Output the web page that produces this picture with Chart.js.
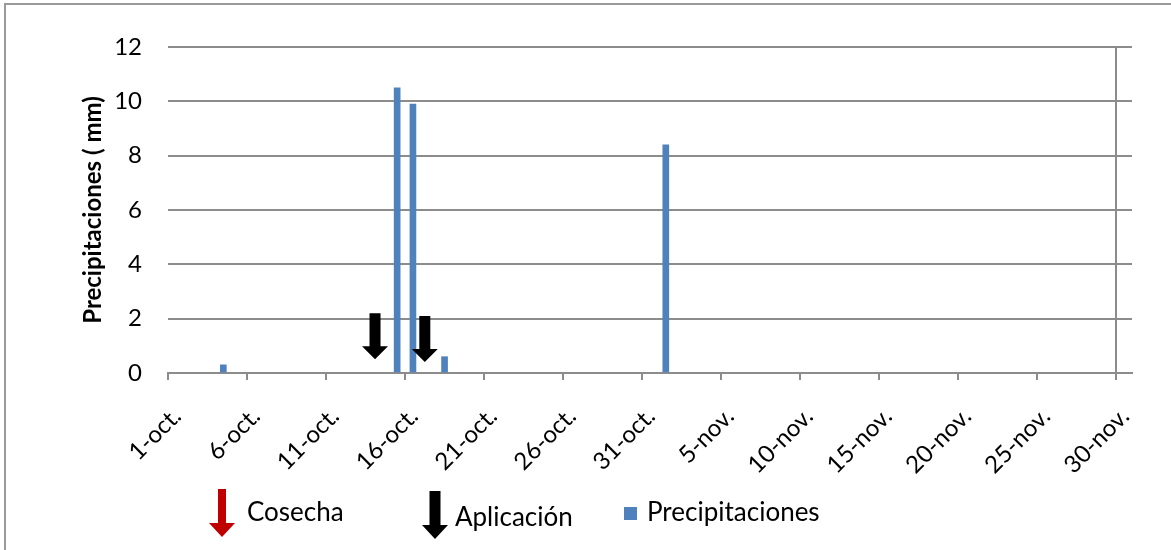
<!DOCTYPE html>
<html>
<head>
<meta charset="utf-8">
<script src="https://cdn.jsdelivr.net/npm/chart.js@4/dist/chart.umd.min.js"></script>
<style>
  html, body { margin: 0; padding: 0; background: #fff; }
  #wrap { width: 1171px; height: 550px; }
</style>
</head>
<body>
<div id="wrap"><canvas id="lluvia" width="1171" height="550"></canvas></div>
<script>
// dias desde el 1-oct.
const diasLluvia = [3, 14, 15, 17, 31];
const precipitaciones = [0.3, 10.5, 9.9, 0.6, 8.4];

// etiquetas del eje x, cada 5 dias
const tickDias = [0, 5, 10, 15, 20, 25, 30, 35, 40, 45, 50, 55, 60];
const tickEtiquetas = ['1-oct.', '6-oct.', '11-oct.', '16-oct.', '21-oct.', '26-oct.', '31-oct.',
  '5-nov.', '10-nov.', '15-nov.', '20-nov.', '25-nov.', '30-nov.'];

// flechas de aplicacion (posicion en dias, altura de la punta superior en mm)
const aplicacionDias = [13.1, 16.25];
const aplicacionTope = [2.2, 2.1];

const leyenda = ['Cosecha', 'Aplicación', 'Precipitaciones'];

const fuente = 'Lato';
const gris = '#8c8c8c';

function flecha(ctx, cx, top, bottom, shaft, head, headH, color) {
  ctx.fillStyle = color;
  ctx.beginPath();
  ctx.moveTo(cx - shaft / 2, top);
  ctx.lineTo(cx + shaft / 2, top);
  ctx.lineTo(cx + shaft / 2, bottom - headH);
  ctx.lineTo(cx + head / 2, bottom - headH);
  ctx.lineTo(cx, bottom);
  ctx.lineTo(cx - head / 2, bottom - headH);
  ctx.lineTo(cx - shaft / 2, bottom - headH);
  ctx.closePath();
  ctx.fill();
}

const extras = {
  id: 'extras',
  beforeDraw(chart) {
    const ctx = chart.ctx;
    ctx.save();
    ctx.strokeStyle = '#9a9a9a';
    ctx.lineWidth = 2;
    ctx.strokeRect(5, 4, 1300, 700);
    ctx.restore();
  },
  afterDraw(chart) {
    const ctx = chart.ctx;
    const xs = chart.scales.x, ys = chart.scales.y;
    ctx.save();
    aplicacionDias.forEach(function (d, i) {
      const cx = xs.getPixelForValue(d);
      const top = ys.getPixelForValue(aplicacionTope[i]);
      flecha(ctx, cx, top, top + 46, 11, 26, 13, '#000');
    });

    // leyenda
    flecha(ctx, 222, 489, 537, 8, 26, 14, '#c00000');
    flecha(ctx, 435, 491, 539, 11, 26, 14, '#000');
    ctx.fillStyle = '#4f81bd';
    ctx.fillRect(624, 507, 13, 13);
    ctx.fillStyle = '#000';
    ctx.font = '26px ' + fuente;
    ctx.textBaseline = 'alphabetic';
    ctx.textAlign = 'left';
    ctx.fillText(leyenda[0], 247, 521);
    ctx.fillText(leyenda[1], 455, 526);
    ctx.fillText(leyenda[2], 647, 521);
    ctx.restore();
  }
};

new Chart('lluvia', {
  type: 'bar',
  data: {
    datasets: [{
      label: 'Precipitaciones',
      data: diasLluvia.map(function (d, i) { return { x: d + 0.5, y: precipitaciones[i] }; }),
      backgroundColor: '#4f81bd',
      barThickness: 6
    }]
  },
  options: {
    responsive: false,
    animation: false,
    layout: { padding: { top: 47, right: 39, left: 75, bottom: 0 } },
    plugins: { legend: { display: false }, tooltip: { enabled: false } },
    scales: {
      x: {
        type: 'linear',
        min: 0,
        max: 61,
        offset: false,
        afterBuildTicks(scale) { scale.ticks = tickDias.map(function (v) { return { value: v }; }); },
        afterFit(scale) { scale.height = 177; },
        ticks: {
          autoSkip: false,
          maxRotation: 45,
          minRotation: 45,
          padding: 22,
          labelOffset: 9,
          color: '#000',
          font: { family: fuente, size: 24 },
          callback: function (v) { return tickEtiquetas[tickDias.indexOf(v)]; }
        },
        grid: {
          offset: false,
          color: function (c) { return c.tick && c.tick.value === 60 ? gris : 'transparent'; },
          tickColor: gris,
          lineWidth: 2,
          tickLength: 7
        },
        border: { color: gris, width: 2 }
      },
      y: {
        min: 0,
        max: 12,
        afterFit(scale) { scale.width = 93; },
        ticks: {
          stepSize: 2,
          padding: 26,
          color: '#000',
          font: { family: fuente, size: 24 }
        },
        grid: { color: gris, lineWidth: 2, drawTicks: false },
        border: { display: false },
        title: {
          display: true,
          text: 'Precipitaciones ( mm)',
          color: '#000',
          font: { family: fuente, size: 24, weight: 'bold' },
          padding: 4
        }
      }
    }
  },
  plugins: [extras]
});
</script>
</body>
</html>
